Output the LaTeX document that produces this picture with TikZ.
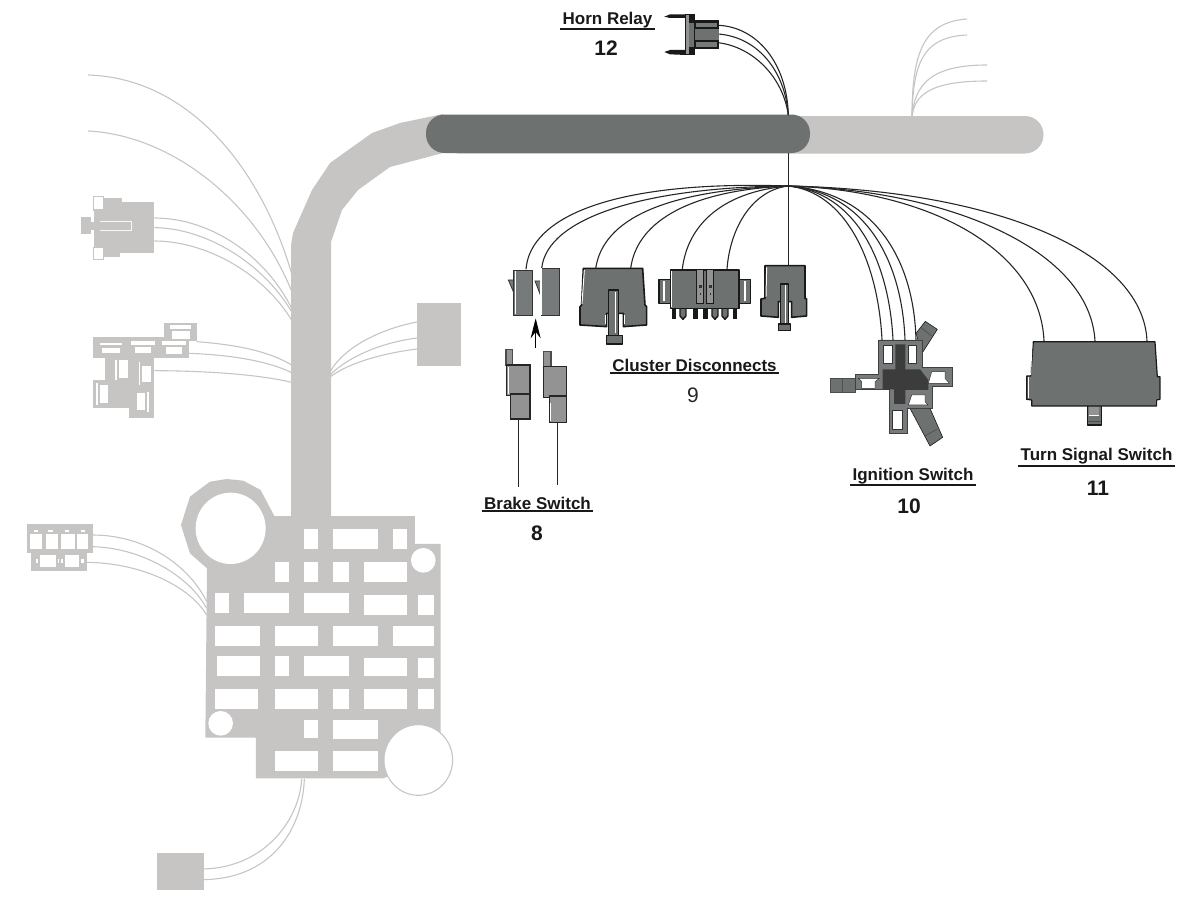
\documentclass[tikz,border=0pt]{standalone}
\usepackage{fontspec}
\setmainfont{Liberation Sans}
\usepackage{tikz}
\usetikzlibrary{arrows.meta}
\definecolor{ghost}{HTML}{C6C5C3}
\definecolor{slate}{HTML}{6D7170}
\definecolor{coal}{HTML}{3C3C3C}
\definecolor{plug}{HTML}{777A7A}
\definecolor{pale}{HTML}{939393}
\tikzset{
  zoomed/.style 2 args={shift={(#1,#2)},x=.3333pt,y=-.3333pt},
  wire/.style={draw=black!85,line width=1.1pt},
  ghostwire/.style={draw=ghost,line width=1.1pt},
  ghostbody/.style={fill=ghost},
  body/.style={fill=slate,draw=black!90,line width=1.6pt,line join=round},
  thinbody/.style={fill=plug,draw=black!80,line width=.8pt},
  palebody/.style={fill=pale,draw=black!85,line width=1.2pt},
  shine/.style={draw=white,line width=1pt},
  title/.style={font=\bfseries\fontsize{17}{19}\selectfont,text=black!90,inner xsep=2pt,inner ysep=1pt},
  rulebar/.style={draw=black!90,line width=1.8pt},
  numeral/.style={font=\bfseries\fontsize{21}{23}\selectfont,text=black!90}
}
\begin{document}
\begin{tikzpicture}[x=1pt,y=-1pt]

  \useasboundingbox (0,0) rectangle (1193,899);

  \coordinate (hub) at (788.3,186);
  \coordinate (barTop) at (788.3,115);
  \coordinate (barBottom) at (788.3,153);
  \coordinate (spine) at (912,116);
  \coordinate (relayA) at (718.3,25.3);
  \coordinate (relayB) at (718.3,34);
  \coordinate (relayC) at (718.3,42.7);
  \coordinate (brakeA) at (526,269.3);
  \coordinate (brakeB) at (541.7,268.3);
  \coordinate (bigA) at (595.7,268.3);
  \coordinate (bigB) at (630.7,268.3);
  \coordinate (multiA) at (682.3,269.3);
  \coordinate (multiB) at (727,269.3);
  \coordinate (third) at (788.3,266);
  \coordinate (ignA) at (882,340);
  \coordinate (ignB) at (893,340);
  \coordinate (ignC) at (905,340);
  \coordinate (ignD) at (916,340);
  \coordinate (turnA) at (1044,341);
  \coordinate (turnB) at (1095,341);
  \coordinate (turnC) at (1147,341);

  \fill[ghost] (291,520) -- (291,245) -- (293,233) -- (312,190) -- (330,163) -- (372,133) -- (400,123) -- (443,114)
    -- (443,153) -- (390,167) -- (358,190) -- (342,210) -- (331,242) -- (331,520) -- cycle;
  \fill[ghost,rounded corners=18.5pt] (440,116) rectangle (1043.5,153.5);
  \fill[slate,rounded corners=18.5pt] (426,114.5) rectangle (810,153);

  \coordinate (spineA) at (967,19);
  \coordinate (spineB) at (967,35);
  \coordinate (spineC) at (987,65);
  \coordinate (spineD) at (987,81);
  \draw[ghostwire] (spine) .. controls (912,50) and (925,22) .. (spineA);
  \draw[ghostwire] (spine) .. controls (913,60) and (925,37) .. (spineB);
  \draw[ghostwire] (spine) .. controls (915,85) and (930,65) .. (spineC);
  \draw[ghostwire] (spine) .. controls (915,95) and (930,81) .. (spineD);

  \coordinate (ghostTopA) at (88,75);
  \coordinate (ghostTopB) at (88,131);
  \coordinate (trunkA) at (292,275);
  \coordinate (trunkB) at (292,292);
  \draw[ghostwire] (ghostTopA) .. controls (190,78) and (262,170) .. (trunkA);
  \draw[ghostwire] (ghostTopB) .. controls (170,135) and (255,200) .. (trunkB);

  \begin{scope}[zoomed={20}{180}]
    \fill[ghost] (222,66) rectangle (403,220);
    \fill[ghost] (250,55) rectangle (305,75);
    \fill[ghost] (250,210) rectangle (300,232);
    \fill[ghost] (183,112) rectangle (212,163);
    \fill[ghost] (212,125) rectangle (222,150);
    \draw[ghostwire,fill=white] (220,50) rectangle (250,90);
    \draw[ghostwire,fill=white] (220,202) rectangle (250,238);
    \draw[white!88!ghost,line width=.7pt] (240,125) -- (335,125) -- (335,150) -- (240,150);
    \fill[ghost] (219,472) rectangle (506,534);
    \fill[ghost] (433,430) rectangle (530,484);
    \fill[ghost] (254,520) rectangle (402,685);
    \fill[ghost] (219,600) rectangle (282,685);
    \fill[ghost] (328,617) rectangle (402,713);
    \foreach \xa/\ya/\xb/\yb in {240/488/305/495,246/503/300/518,332/484/405/495,345/502/393/518,
      425/484/497/495,437/502/485/522,449/436/514/447,455/452/510/478,296/540/323/593,365/557/393/605,
      240/616/265/668,350/638/376/690,229/610/234/675,285/540/290/600,357/547/361/615,380/635/386/695}
      \fill[white] (\xa,\ya) rectangle (\xb,\yb);
    \coordinate (gA) at (403,114);
    \coordinate (gB) at (403,143);
    \coordinate (gC) at (403,183);
    \coordinate (gD) at (530,485);
    \coordinate (gE) at (506,520);
    \coordinate (gF) at (403,572);
    \coordinate (gAend) at (815,385);
    \coordinate (gBend) at (815,395);
    \coordinate (gCend) at (815,420);
    \coordinate (gDend) at (815,555);
    \coordinate (gEend) at (815,578);
    \coordinate (gFend) at (815,607);
  \end{scope}
  \draw[ghostwire] (gA) .. controls (210,218) and (265,255) .. (gAend);
  \draw[ghostwire] (gB) .. controls (205,228) and (262,262) .. (gBend);
  \draw[ghostwire] (gC) .. controls (205,241) and (262,272) .. (gCend);
  \draw[ghostwire] (gD) .. controls (240,345) and (270,352) .. (gDend);
  \draw[ghostwire] (gE) .. controls (235,355) and (270,362) .. (gEend);
  \draw[ghostwire] (gF) .. controls (220,371) and (265,376) .. (gFend);

  \fill[ghost] (417,303) rectangle (461,366);
  \coordinate (sideA) at (417,322);
  \coordinate (sideB) at (417,338);
  \coordinate (sideC) at (417,349);
  \coordinate (sideD) at (330,372);
  \coordinate (sideE) at (330,375);
  \coordinate (sideF) at (330,377);
  \draw[ghostwire] (sideD) .. controls (345,345) and (385,328) .. (sideA);
  \draw[ghostwire] (sideE) .. controls (350,355) and (385,342) .. (sideB);
  \draw[ghostwire] (sideF) .. controls (350,362) and (385,353) .. (sideC);

  \begin{scope}[zoomed={20}{470}]
    \fill[ghost] (561,295) -- (763,138) -- (1185,138) -- (1185,222) -- (1262,222) -- (1262,860) -- (1090,925)
      -- (708,925) -- (708,803) -- (556,803) -- cycle;
    \fill[ghost] (483,165) -- (510,80) -- (570,35) -- (620,27) -- (670,32) -- (722,60) -- (763,138) -- (640,310) -- (561,295) -- (510,250) -- cycle;
    \fill[white] (632,175) ellipse (105 and 107);
    \foreach \xa/\ya/\xb/\yb in {852/178/894/237,939/178/1074/237,1119/178/1161/237,
      765/276/806/336,852/276/894/336,939/276/986/336,1032/276/1161/336,
      585/369/627/429,672/369/806/429,852/369/986/429,1032/375/1161/435,1194/375/1242/435,
      585/468/720/528,765/468/894/528,939/468/1074/528,1119/468/1242/528,
      591/558/720/618,765/558/806/618,852/558/986/618,1032/564/1161/618,1194/564/1242/624,
      585/657/714/717,765/657/894/717,939/657/986/717,1032/657/1161/717,1194/657/1242/717,
      852/750/894/804,939/750/1074/808,
      765/843/894/903,939/843/1074/903}
      \fill[white] (\xa,\ya) rectangle (\xb,\yb);
    \fill[white] (1210,271) circle (37);
    \fill[white] (602,760) circle (37);
    \draw[ghostwire,fill=white] (1195,870) ellipse (103 and 106);
    \fill[ghost] (21,163) rectangle (218,250);
    \fill[ghost] (33,250) rectangle (200,302);
    \foreach \xa/\ya/\xb/\yb in {31/191/66/238,77/191/113/238,123/191/165/238,171/191/205/238,
      42/181/55/186,85/181/100/186,135/181/148/186,183/181/196/186,
      59/255/107/290,135/255/178/290,48/268/55/278,113/268/118/278,123/268/130/278,182/268/192/278}
      \fill[white] (\xa,\ya) rectangle (\xb,\yb);
    \fill[ghost] (411,1149) rectangle (552,1260);
    \coordinate (fuseA) at (218,195);
    \coordinate (fuseB) at (218,230);
    \coordinate (fuseC) at (200,277);
    \coordinate (fuseAend) at (560,395);
    \coordinate (fuseBend) at (560,415);
    \coordinate (fuseCend) at (560,435);
    \coordinate (blockA) at (552,1197);
    \coordinate (blockB) at (552,1229);
    \coordinate (boxA) at (845,927);
    \coordinate (boxB) at (853,927);
  \end{scope}
  \draw[ghostwire] (fuseA) .. controls (147,535) and (190,567) .. (fuseAend);
  \draw[ghostwire] (fuseB) .. controls (143,548) and (190,577) .. (fuseBend);
  \draw[ghostwire] (fuseC) .. controls (143,563) and (190,587) .. (fuseCend);
  \draw[ghostwire] (boxA) .. controls (300,817) and (267,867) .. (blockA);
  \draw[ghostwire] (boxB) .. controls (303,823) and (277,878) .. (blockB);

  \draw[wire] (relayA) .. controls (757,27) and (787,63) .. (barTop);
  \draw[wire] (relayB) .. controls (757,37) and (785,70) .. (barTop);
  \draw[wire] (relayC) .. controls (753,47) and (783,77) .. (barTop);
  \draw[wire] (barBottom) -- (hub);
  \draw[wire] (hub) .. controls (613,180) and (530,217) .. (brakeA);
  \draw[wire] (hub) .. controls (647,187) and (547,217) .. (brakeB);
  \draw[wire] (hub) .. controls (663,190) and (603,220) .. (bigA);
  \draw[wire] (hub) .. controls (693,190) and (637,220) .. (bigB);
  \draw[wire] (hub) .. controls (720,192) and (687,227) .. (multiA);
  \draw[wire] (hub) .. controls (753,190) and (730,227) .. (multiB);
  \draw[wire] (hub) -- (third);
  \draw[wire] (hub) .. controls (845,192) and (878,260) .. (ignA);
  \draw[wire] (hub) .. controls (855,192) and (889,260) .. (ignB);
  \draw[wire] (hub) .. controls (865,192) and (902,260) .. (ignC);
  \draw[wire] (hub) .. controls (875,192) and (914,260) .. (ignD);
  \draw[wire] (hub) .. controls (930,190) and (1040,250) .. (turnA);
  \draw[wire] (hub) .. controls (950,190) and (1090,250) .. (turnB);
  \draw[wire] (hub) .. controls (990,190) and (1143,250) .. (turnC);

  \begin{scope}[zoomed={480}{0}]
    \fill[black!90] (553,50) -- (570,43) -- (618,43) -- (618,54) -- (570,54) -- cycle;
    \fill[black!90] (553,156) -- (570,150) -- (618,150) -- (618,165) -- (570,163) -- cycle;
    \fill[black!90] (640,60) rectangle (718,148);
    \fill[plug] (648,68) rectangle (712,80);
    \fill[slate] (642,86) rectangle (716,120);
    \fill[plug] (648,127) rectangle (712,140);
    \fill[black!90] (615,43) rectangle (645,166);
    \fill[pale] (618,46) rectangle (626,163);
    \fill[slate] (627,70) rectangle (642,140);

    \draw[thinbody] (85,840) -- (103,840) -- (103,882) -- cycle;
    \draw[thinbody] (165,843) -- (183,843) -- (180,882) -- cycle;
    \draw[thinbody] (100,810) rectangle (157,945);
    \draw[thinbody] (183,805) rectangle (238,945);
    \draw[shine] (106,812) -- (106,943);
    \draw[white,line width=1.5pt] (183,805) -- (183,945);

    \draw[body] (380,1007) rectangle (428,1032);
    \draw[body] (310,805) -- (488,805) -- (495,915) -- (500,920) -- (500,975) -- (430,980) -- (430,940)
      -- (380,940) -- (380,980) -- (300,975) -- (300,920) -- (305,915) -- cycle;
    \draw[body] (386,870) rectangle (416,1007);
    \draw[shine] (408,875) -- (408,1000);
    \draw[shine] (313,810) -- (306,912);
    \draw[shine] (377,945) -- (377,972);
    \draw[shine] (433,945) -- (433,972);

    \draw[body] (537,838) rectangle (578,910);
    \draw[body] (762,838) rectangle (812,910);
    \draw[shine,line width=1.6pt] (552,844) -- (552,904);
    \draw[shine,line width=1.6pt] (795,844) -- (795,904);
    \foreach \tx in {575,640,670,758}
      \fill[black!90] (\tx,920) rectangle (\tx+14,958);
    \foreach \tx in {600,696,726}
      \draw[body,line width=1.4pt] (\tx,920) -- (\tx,948) -- (\tx+9,958) -- (\tx+18,948) -- (\tx+18,920);
    \draw[body] (572,810) rectangle (777,925);
    \draw[fill=pale,draw=black!90,line width=1pt] (650,810) rectangle (672,910);
    \draw[fill=pale,draw=black!90,line width=1pt] (680,810) rectangle (702,910);
    \fill[black!80] (657,855) rectangle (665,865);
    \fill[black!80] (687,855) rectangle (695,865);
    \fill[black!80] (659,878) rectangle (664,884);
    \fill[black!80] (689,878) rectangle (694,884);
    \draw[shine] (575,812) -- (575,920);

    \draw[body] (895,972) rectangle (932,992);
    \draw[body] (855,797) -- (975,797) -- (975,895) -- (980,897) -- (980,948) -- (935,952) -- (935,905)
      -- (895,905) -- (895,952) -- (843,948) -- (843,897) -- (855,895) -- cycle;
    \draw[body] (902,852) rectangle (926,972);
    \draw[shine] (917,856) -- (917,968);
    \draw[shine] (860,802) -- (858,890);
  \end{scope}

  \begin{scope}[zoomed={470}{250}]
    \draw[palebody,draw=black!70] (108,298) rectangle (128,345);
    \draw[palebody] (110,345) rectangle (180,437);
    \draw[palebody] (122,432) rectangle (180,507);
    \draw[shine] (116,350) -- (116,432);
    \draw[palebody,draw=black!70] (220,305) rectangle (243,355);
    \draw[palebody] (220,350) rectangle (290,442);
    \draw[palebody] (238,438) rectangle (290,518);
    \draw[shine] (243,460) -- (243,512);
    \coordinate (switchA) at (145,507);
    \coordinate (switchB) at (262,518);
    \coordinate (switchAend) at (145,710);
    \coordinate (switchBend) at (262,705);
    \coordinate (arrowFoot) at (197,295);
    \coordinate (arrowTip) at (197,205);
  \end{scope}
  \draw[wire] (switchA) -- (switchAend);
  \draw[wire] (switchB) -- (switchBend);
  \draw[-{Stealth[length=20pt,width=10pt]},black,line width=1pt] (arrowFoot) -- (arrowTip);

  \begin{scope}[zoomed={820}{300}]
    \fill[coal!90,draw=black!70] (32,235) rectangle (106,278);
    \fill[slate] (34,237) rectangle (66,276);
    \fill[slate] (70,237) rectangle (104,276);
    \draw[body,line width=.6pt] (288,100) -- (316,64) -- (352,88) -- (306,160) -- cycle;
    \draw[black!70,line width=.6pt] (302,82) -- (335,108);
    \draw[body,line width=.6pt] (270,325) -- (330,325) -- (368,412) -- (330,438) -- cycle;
    \draw[black!70,line width=.6pt] (315,408) -- (350,388);
    \draw[fill=plug,draw=black!75,line width=.9pt] (176,120) -- (306,120) -- (306,202) -- (398,202) -- (398,260) -- (338,260)
      -- (338,325) -- (262,325) -- (262,400) -- (208,400) -- (208,268) -- (106,268) -- (106,224) -- (176,224) -- cycle;
    \fill[coal] (226,133) -- (256,133) -- (256,208) -- (300,208) -- (325,240) -- (325,270) -- (256,270) -- (256,312)
      -- (222,312) -- (222,268) -- (188,268) -- (188,208) -- (226,208) -- cycle;
    \draw[fill=white,draw=black!80,line width=.5pt] (190,137) -- (218,137) -- (218,190) -- (190,190) -- cycle;
    \draw[fill=white,draw=black!80,line width=.5pt] (265,135) -- (290,135) -- (290,190) -- (265,190) -- cycle;
    \draw[fill=white,draw=black!80,line width=.5pt] (335,215) -- (375,215) -- (375,235) -- (388,250) -- (325,250) -- cycle;
    \draw[fill=white,draw=black!80,line width=.5pt] (115,235) -- (178,235) -- (165,245) -- (165,265) -- (125,265) -- (125,245) -- cycle;
    \draw[fill=white,draw=black!80,line width=.5pt] (275,285) -- (315,285) -- (315,305) -- (325,315) -- (265,315) -- cycle;
    \draw[fill=white,draw=black!80,line width=.5pt] (218,330) -- (248,330) -- (248,388) -- (218,388) -- cycle;

    \draw[body] (802,312) rectangle (845,375);
    \fill[pale] (808,316) rectangle (838,345);
    \draw[shine] (808,347) -- (838,347);
    \fill[black!70] (804,362) rectangle (843,365);
    \draw[body,line width=1.2pt] (640,125) -- (1005,125) -- (1012,230) -- (1020,230) -- (1020,298) -- (1010,300) -- (1010,318) -- (635,318)
      -- (635,300) -- (620,298) -- (620,228) -- (632,228) -- cycle;
    \draw[shine] (636,130) -- (632,225);
    \draw[shine] (627,232) -- (627,295);
  \end{scope}

  \node[title] (hornlabel) at (607.5,20) {Horn Relay};
  \node[numeral] (hornnum) at (606,48) {12};
  \node[title] (brakelabel) at (537.5,503.5) {Brake Switch};
  \node[numeral] (brakenum) at (537,533) {8};
  \node[title] (clusterlabel) at (694.5,365.5) {Cluster Disconnects};
  \node[font=\fontsize{21}{23}\selectfont,text=black!85] (clusternum) at (693,395) {9};
  \node[title] (ignitionlabel) at (913,476) {Ignition Switch};
  \node[numeral] (ignitionnum) at (909,506) {10};
  \node[title] (turnlabel) at (1096.5,456.5) {Turn Signal Switch};
  \node[numeral] (turnnum) at (1098,488) {11};
  \draw[rulebar] (hornlabel.south west) -- (hornlabel.south east);
  \draw[rulebar] (brakelabel.south west) -- (brakelabel.south east);
  \draw[rulebar] (clusterlabel.south west) -- (clusterlabel.south east);
  \draw[rulebar] (ignitionlabel.south west) -- (ignitionlabel.south east);
  \draw[rulebar] (turnlabel.south west) -- (turnlabel.south east);

\end{tikzpicture}
\end{document}
